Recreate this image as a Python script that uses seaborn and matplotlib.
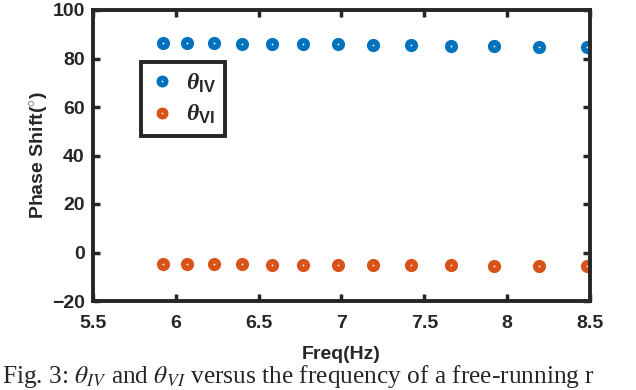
import pandas as pd
import seaborn as sns
import matplotlib.pyplot as plt
from matplotlib import font_manager

freq = [5.92, 6.07, 6.23, 6.40, 6.58, 6.77, 6.98, 7.19, 7.42, 7.66, 7.92, 8.19, 8.48]
theta_iv = [86.2, 86.2, 86.2, 86.1, 86.1, 86.0, 85.8, 85.6, 85.4, 85.2, 85.1, 84.9, 84.6]
theta_vi = [-4.8, -4.8, -4.8, -4.8, -5.0, -5.0, -5.1, -5.1, -5.3, -5.3, -5.4, -5.5, -5.7]
series = [r"θ$_{\mathrm{IV}}$", r"θ$_{\mathrm{VI}}$"]
colors = ["#0072BD", "#D95319"]

df = pd.DataFrame({
    "freq": freq * 2,
    "phase": theta_iv + theta_vi,
    "series": [series[0]] * len(freq) + [series[1]] * len(freq),
})

names = {f.name for f in font_manager.fontManager.ttflist}
sans = "Liberation Sans Narrow" if "Liberation Sans Narrow" in names else "Liberation Sans"

sns.set_style("ticks")
plt.rcParams["font.family"] = [sans, "DejaVu Sans"]
plt.rcParams["mathtext.fontset"] = "custom"
plt.rcParams["mathtext.it"] = "Liberation Serif:italic"
plt.rcParams["mathtext.rm"] = sans + ":bold"

fig = plt.figure(figsize=(6.36, 3.9), dpi=100)
ax = fig.add_axes([93 / 636, 1 - 301 / 390, 497 / 636, 291 / 390])

for name, c in zip(series, colors):
    sns.scatterplot(
        data=df[df["series"] == name], x="freq", y="phase", color=c,
        marker="o", s=30, linewidth=4, edgecolor=c, ax=ax, legend=False
    )
for coll, c in zip(ax.collections, colors):
    coll.set_facecolor("white")
    coll.set_edgecolor(c)

ax.set_xlim(5.5, 8.5)
ax.set_ylim(-20, 100)
ax.set_xticks([5.5, 6, 6.5, 7, 7.5, 8, 8.5])
ax.set_xticklabels(["5.5", "6", "6.5", "7", "7.5", "8", "8.5"])
ax.set_yticks([-20, 0, 20, 40, 60, 80, 100])
ax.tick_params(direction="in", length=5, width=2.5, labelsize=14,
               top=True, right=True)
ax.tick_params(axis="x", pad=10)
ax.tick_params(axis="y", pad=6)
for lab in ax.get_xticklabels() + ax.get_yticklabels():
    lab.set_fontweight("bold")
for sp in ax.spines.values():
    sp.set_linewidth(2.8)
    sp.set_color("#262626")
    sp.set_visible(True)

ax.set_xlabel("Freq(Hz)", fontsize=14, fontweight="bold", labelpad=10)
ax.set_ylabel(r"Phase Shift($^{\circ}$)", fontsize=14, fontweight="bold")
ax.yaxis.set_label_coords(-0.086, 0.5)

handles = [
    plt.Line2D([], [], linestyle="none", marker="o", markersize=5,
               markeredgewidth=3.6, markerfacecolor="white", markeredgecolor=c)
    for c in colors
]
leg = ax.legend(handles, series, loc="upper left", bbox_to_anchor=(0.097, 0.821),
                borderaxespad=0, frameon=True, fancybox=False,
                prop={"size": 17, "weight": "bold", "style": "italic",
                      "family": "Liberation Serif"},
                handletextpad=0.5, borderpad=0.4, labelspacing=0.35,
                handlelength=1.0)
leg.get_frame().set_edgecolor("#262626")
leg.get_frame().set_linewidth(2.8)
leg.get_frame().set_alpha(1)

fig.text(0.003, 7 / 390,
         r"Fig. 3: $\theta_{IV}$ and $\theta_{VI}$ versus the frequency of a free-running r",
         fontsize=18.3, family="Liberation Serif", fontweight="normal",
         math_fontfamily="stix", va="baseline", ha="left")

fig.savefig("out.png", dpi=100)
